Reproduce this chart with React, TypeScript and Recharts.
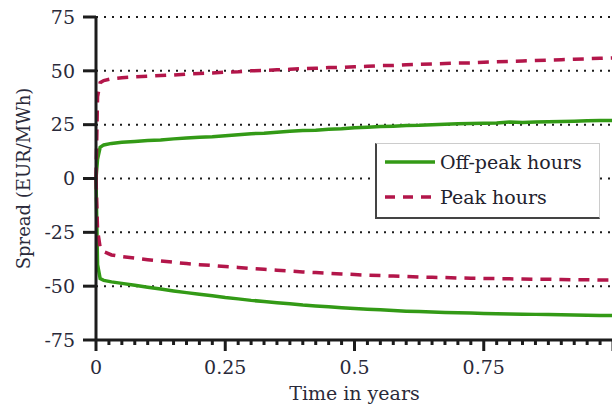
import { LineChart, Line, XAxis, YAxis, CartesianGrid } from 'recharts'

const times = [
  0, 0.003, 0.008, 0.015, 0.03, 0.05, 0.075, 0.1, 0.125, 0.15, 0.175, 0.2, 0.225, 0.25, 0.275,
  0.3, 0.325, 0.35, 0.375, 0.4, 0.425, 0.45, 0.475, 0.5, 0.525, 0.55, 0.575, 0.6, 0.625, 0.65,
  0.675, 0.7, 0.725, 0.75, 0.775, 0.8, 0.825, 0.85, 0.875, 0.9, 0.925, 0.95, 0.975, 1.0,
]

const offPeakUpper = [
  0, 9, 14.5, 15.6, 16.3, 16.8, 17.2, 17.6, 17.9, 18.4, 18.8, 19.2, 19.4, 19.9, 20.3, 20.8, 21.0,
  21.5, 21.9, 22.3, 22.4, 22.9, 23.1, 23.6, 23.8, 24.1, 24.3, 24.6, 24.7, 25.0, 25.2, 25.4, 25.5,
  25.7, 25.8, 26.2, 26.0, 26.2, 26.4, 26.5, 26.6, 26.8, 26.9, 27.0,
]

const offPeakLower = [
  0, -40, -46.5, -47.3, -48, -48.7, -49.6, -50.5, -51.3, -52.2, -53, -53.8, -54.5, -55.3, -55.9,
  -56.6, -57.1, -57.7, -58.2, -58.8, -59.2, -59.6, -60, -60.4, -60.7, -61, -61.3, -61.6, -61.8,
  -62, -62.2, -62.4, -62.5, -62.7, -62.8, -62.9, -63, -63.1, -63.2, -63.3, -63.4, -63.5, -63.6,
  -63.6,
]

const peakUpper = [
  0, 38, 44.5, 45.5, 46.3, 46.8, 47.2, 47.5, 47.8, 48.1, 48.5, 48.8, 49.0, 49.4, 49.6, 50.0, 50.2,
  50.5, 50.7, 51.0, 51.2, 51.5, 51.6, 51.9, 52.1, 52.4, 52.5, 52.8, 53.0, 53.2, 53.4, 53.6, 53.7,
  54.0, 54.2, 54.4, 54.6, 54.8, 55.0, 55.2, 55.4, 55.6, 55.8, 56.0,
]

const peakLower = [
  0, -24, -32, -34, -35.5, -36.3, -37, -37.7, -38.3, -38.9, -39.5, -40, -40.4, -40.9, -41.3, -41.8,
  -42.2, -42.6, -43, -43.4, -43.7, -44, -44.3, -44.6, -44.9, -45.1, -45.3, -45.5, -45.7, -45.9,
  -46, -46.2, -46.3, -46.4, -46.5, -46.6, -46.7, -46.8, -46.8, -46.9, -47, -47, -47.1, -47.1,
]

const yTicks = [-75, -50, -25, 0, 25, 50, 75]
const xMajorTicks = [0, 0.25, 0.5, 0.75, 1]
const xLabels = ['0', '0.25', '0.5', '0.75'] // "1" sits past the cropped right edge
// minor ticks every 0.025
const xTicks = Array.from({ length: 41 }, (_, i) => Math.round(i * 25) / 1000)

const GREEN = '#339a16'
const RED = '#b3164a'
const INK = '#1c1c1c'
const FONT = 'DejaVu Serif, Liberation Serif, Times New Roman, serif'

const data = times.map((t, i) => ({
  t,
  offUp: offPeakUpper[i],
  offLo: offPeakLower[i],
  peakUp: peakUpper[i],
  peakLo: peakLower[i],
}))

function XTick(props: any) {
  const { x, y, payload } = props
  const v = payload.value as number
  const idx = xMajorTicks.findIndex((m) => Math.abs(m - v) < 1e-6)
  const major = idx >= 0
  return (
    <g>
      <line x1={x} x2={x} y1={y} y2={y + (major ? 11 : 5)} stroke={INK} strokeWidth={3} />
      {major && xLabels[idx] && (
        <text x={x} y={y + 34} textAnchor="middle" fontSize={19} fill="#2a2a3a" fontFamily={FONT}>
          {xLabels[idx]}
        </text>
      )}
    </g>
  )
}

export default function App() {
  return (
    <div
      style={{
        position: 'fixed',
        left: 0,
        top: 0,
        width: 612,
        height: 405,
        overflow: 'hidden',
        background: '#fff',
        fontFamily: FONT,
      }}
    >
      <LineChart
        width={620}
        height={405}
        data={data}
        margin={{ top: 17, right: 7, bottom: 15, left: 16 }}
        style={{ fontFamily: FONT }}
      >
        <CartesianGrid vertical={false} stroke={INK} strokeWidth={2} strokeDasharray="2 6" />
        <XAxis
          dataKey="t"
          type="number"
          domain={[0, 1]}
          ticks={xTicks}
          interval={0}
          height={50}
          tickSize={0}
          tickMargin={0}
          tick={<XTick />}
          axisLine={{ stroke: INK, strokeWidth: 3 }}
          label={{
            value: 'Time in years',
            position: 'insideBottom',
            offset: -10,
            fontSize: 19,
            fill: '#2a2a3a',
            fontFamily: FONT,
          }}
        />
        <YAxis
          type="number"
          domain={[-75, 75]}
          ticks={yTicks}
          interval={0}
          width={80}
          tickSize={13}
          tickMargin={8}
          axisLine={{ stroke: INK, strokeWidth: 3 }}
          tickLine={{ stroke: INK, strokeWidth: 3 }}
          tick={{ fontSize: 19, fill: '#2a2a3a', fontFamily: FONT }}
          label={{
            value: 'Spread (EUR/MWh)',
            angle: -90,
            position: 'insideLeft',
            offset: 8,
            fontSize: 18,
            fill: '#2a2a3a',
            fontFamily: FONT,
            style: { textAnchor: 'middle' },
          }}
        />
        <Line type="linear" dataKey="offUp" stroke={GREEN} strokeWidth={3.5} dot={false} isAnimationActive={false} />
        <Line type="linear" dataKey="offLo" stroke={GREEN} strokeWidth={3.5} dot={false} isAnimationActive={false} />
        <Line type="linear" dataKey="peakUp" stroke={RED} strokeWidth={3.5} strokeDasharray="11 8" dot={false} isAnimationActive={false} />
        <Line type="linear" dataKey="peakLo" stroke={RED} strokeWidth={3.5} strokeDasharray="11 8" dot={false} isAnimationActive={false} />
      </LineChart>

      {/* legend box */}
      <div
        style={{
          position: 'absolute',
          left: 375,
          top: 143,
          width: 222,
          height: 73,
          borderLeft: '2px solid #444',
          borderBottom: '2px solid #444',
          borderTop: '1px solid #ccc',
          borderRight: '1px solid #ccc',
          background: '#fff',
          fontSize: 19,
          color: '#22222e',
        }}
      >
        <div style={{ position: 'absolute', left: 6, top: 7, display: 'flex', alignItems: 'center' }}>
          <svg width={52} height={10}>
            <line x1={2} x2={52} y1={5} y2={5} stroke={GREEN} strokeWidth={3.5} />
          </svg>
          <span style={{ marginLeft: 5 }}>Off-peak hours</span>
        </div>
        <div style={{ position: 'absolute', left: 6, top: 42, display: 'flex', alignItems: 'center' }}>
          <svg width={52} height={10}>
            <line x1={2} x2={52} y1={5} y2={5} stroke={RED} strokeWidth={3.5} strokeDasharray="10 8" />
          </svg>
          <span style={{ marginLeft: 5 }}>Peak hours</span>
        </div>
      </div>
    </div>
  )
}
